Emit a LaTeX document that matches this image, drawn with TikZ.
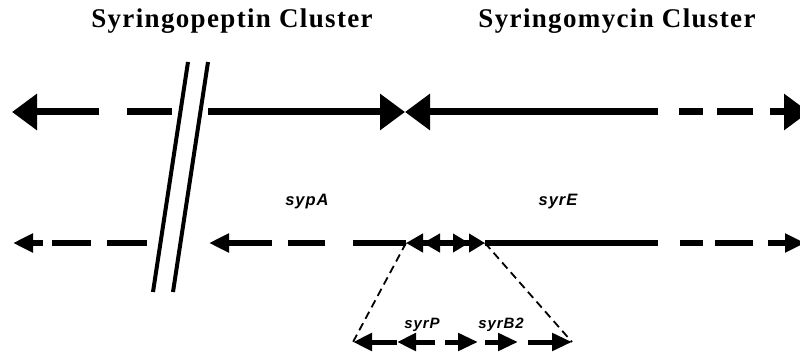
\documentclass[tikz,border=0pt]{standalone}
\usepackage{fontspec}
\setmainfont{Liberation Serif}
\newfontfamily\labfont{Liberation Sans}[LetterSpace=6]
\usetikzlibrary{arrows.meta}
\begin{document}
\begin{tikzpicture}[x=1pt,y=-1pt,
  row1/.style={line width=7pt},
  row2/.style={line width=5.5pt},
  row3/.style={line width=5pt},
  headA/.style={-{Triangle[length=25pt,width=35pt]}},
  headB/.style={-{Triangle[length=20pt,width=18pt]}},
  headC/.style={-{Triangle[length=19pt,width=17pt]}},
  headD/.style={-{Triangle[length=20pt,width=17pt]}},
  brk/.style={line width=4pt},
  zoomline/.style={line width=1.8pt,dash pattern=on 8pt off 5pt},
  title/.style={font=\bfseries\fontsize{27}{30}\selectfont\addfontfeature{LetterSpace=5}, anchor=base, inner sep=0pt},
  gene/.style={font=\labfont\bfseries\itshape\fontsize{16.5}{18}\selectfont, anchor=base, inner sep=0pt},
  genesmall/.style={font=\labfont\bfseries\itshape\fontsize{15}{17}\selectfont, anchor=base, inner sep=0pt}]
\useasboundingbox (0,0) rectangle (800,358);
\clip (0,0) rectangle (800,358);
\fill[white] (0,0) rectangle (800,358);

% titles
\node[title] (t1) at (232,28) {Syringopeptin Cluster};
\node[title] (t2) at (617,28) {Syringomycin Cluster};

% ---- row 1 ----
\coordinate (a1) at (99,112);  \coordinate (a1t) at (12,112);
\coordinate (a2) at (127,112); \coordinate (a2e) at (172,112);
\coordinate (a3) at (208,112); \coordinate (j1) at (405,112);
\coordinate (b1) at (658,112);
\coordinate (b2) at (679,112); \coordinate (b2e) at (703,112);
\coordinate (b3) at (717,112); \coordinate (b3e) at (753,112);
\coordinate (b4) at (770,112); \coordinate (b4t) at (809,112);
\draw[row1,headA] (a1) -- (a1t);
\draw[row1] (a2) -- (a2e);
\draw[row1,headA] (a3) -- (j1);
\draw[row1,headA] (b1) -- (j1);
\draw[row1] (b2) -- (b2e);
\draw[row1] (b3) -- (b3e);
\draw[row1,headA] (b4) -- (b4t);

% break marks
\coordinate (k1a) at (188,62); \coordinate (k1b) at (153,292);
\coordinate (k2a) at (208,62); \coordinate (k2b) at (173,292);
\draw[brk] (k1a) -- (k1b);
\draw[brk] (k2a) -- (k2b);

% ---- row 2 ----
\node[gene] (sypA) at (307,205) {sypA};
\node[gene] (syrE) at (558,205) {syrE};
\coordinate (c1) at (43,243);  \coordinate (c1t) at (13,243);
\coordinate (c2) at (52,243);  \coordinate (c2e) at (91,243);
\coordinate (c3) at (107,243); \coordinate (c3e) at (147,243);
\coordinate (c4) at (272,243); \coordinate (c4t) at (209,243);
\coordinate (c5) at (288,243); \coordinate (c5e) at (325,243);
\coordinate (c6) at (353,243); \coordinate (jl) at (406,243);
\coordinate (mid1) at (453,243); \coordinate (mid2) at (440,243);
\coordinate (jr) at (485,243);
\coordinate (d1) at (658,243);
\coordinate (d2) at (680,243); \coordinate (d2e) at (703,243);
\coordinate (d3) at (715,243); \coordinate (d3e) at (753,243);
\coordinate (d4) at (768,243); \coordinate (d4t) at (805,243);
\draw[row2,headB] (c1) -- (c1t);
\draw[row2] (c2) -- (c2e);
\draw[row2] (c3) -- (c3e);
\draw[row2,headB] (c4) -- (c4t);
\draw[row2] (c5) -- (c5e);
\draw[row2] (c6) -- (jl);
\draw[row2,-{Triangle[length=17pt,width=18pt,sep=0pt]Triangle[length=17pt,width=18pt]}] (mid1) -- (jl);
\draw[row2,-{Triangle[length=16pt,width=18pt,sep=0pt]Triangle[length=16pt,width=18pt]}] (mid2) -- (jr);
\draw[row2] (jr) -- (d1);
\draw[row2] (d2) -- (d2e);
\draw[row2] (d3) -- (d3e);
\draw[row2,headB] (d4) -- (d4t);

% ---- zoom lines ----
\coordinate (zl) at (353,342);
\coordinate (zr) at (572,342);
\draw[zoomline] (jl) -- (zl);
\draw[zoomline] (jr) -- (zr);

% ---- row 3 ----
\node[genesmall] (syrP) at (422,328) {syrP};
\node[genesmall] (syrB2) at (501,328) {syrB2};
\coordinate (e1) at (397,342); \coordinate (e2) at (435,342);
\coordinate (e3) at (445,342); \coordinate (e3t) at (478,342);
\coordinate (e4) at (485,342); \coordinate (e4t) at (518,342);
\coordinate (e5) at (528,342);
\draw[row3,headC] (e1) -- (zl);
\draw[row3,headC] (e2) -- (e1);
\draw[row3,headD] (e3) -- (e3t);
\draw[row3,headD] (e4) -- (e4t);
\draw[row3,headD] (e5) -- (zr);
\end{tikzpicture}
\end{document}
